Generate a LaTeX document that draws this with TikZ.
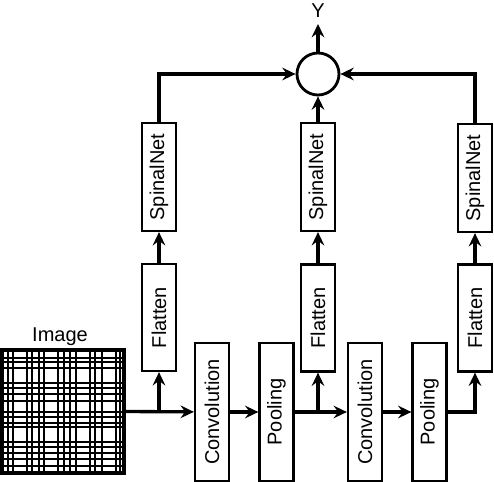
\documentclass[tikz,border=0pt]{standalone}
\usepackage{fontspec}
\setmainfont{Liberation Sans}
\usetikzlibrary{arrows.meta}

\begin{document}
\begin{tikzpicture}[x=0.75pt,y=-0.75pt,
  blk/.style={draw, line width=1.7pt, rotate=90, inner sep=0pt, minimum height=25.5pt, font=\fontsize{15}{18}\selectfont},
  arr/.style={line width=2.5pt, -{Stealth[length=10pt,width=9.5pt,inset=3.5pt]}},
  gridln/.style={line width=1.7pt}]
\useasboundingbox (0,0) rectangle (494,482);
\foreach \gx in {8,13,27,32,39,44,58,64,70,76,90,95,102,116,120}
  \draw[gridln] (\gx,350) -- (\gx,473);
\foreach \gy in {358,362,368,383,388,394,401,412,417,423,427,442,447,453,459,466}
  \draw[gridln] (2,\gy) -- (124,\gy);
\node[draw, line width=3.2pt, minimum width=91.5pt, minimum height=92.25pt] (img) at (63,411.5){};
\node[font=\fontsize{15}{18}\selectfont] (imglab) at (60,337){Image};
\node[blk, minimum width=103.5pt] (conv1) at (212,412){Convolution};
\node[blk, minimum width=103.5pt] (pool1) at (276.5,412){Pooling};
\node[blk, minimum width=103.5pt] (conv2) at (365,412){Convolution};
\node[blk, minimum width=103.5pt] (pool2) at (429.5,412){Pooling};
\node[blk, minimum width=80.25pt] (flat1) at (159,317.5){Flatten};
\node[blk, minimum width=80.25pt] (flat2) at (318,318){Flatten};
\node[blk, minimum width=80.25pt] (flat3) at (475,318){Flatten};
\node[blk, minimum width=81pt] (spin1) at (159,177){SpinalNet};
\node[blk, minimum width=81pt] (spin2) at (318,177){SpinalNet};
\node[blk, minimum width=81pt] (spin3) at (475,178){SpinalNet};
\node[circle, draw, line width=2.1pt, minimum size=31.5pt, inner sep=0pt] (sum) at (318,74){};
\node[font=\fontsize{15}{18}\selectfont] (ylab) at (318,11){Y};
\coordinate (yout) at (318,24);
\coordinate (br1) at (159,412);
\coordinate (br2) at (318,412);
% main line
\draw[arr] (img.east) -- (conv1);
\draw[arr] (br1) -- (flat1);
\draw[arr] (conv1) -- (pool1);
\draw[arr] (pool1) -- (conv2);
\draw[arr] (br2) -- (flat2);
\draw[arr] (conv2) -- (pool2);
\draw[arr] (pool2) -| (flat3);
% branches
\draw[arr] (flat1) -- (spin1);
\draw[arr] (flat2) -- (spin2);
\draw[arr] (flat3) -- (spin3);
\draw[arr] (spin1) |- (sum);
\draw[arr] (spin2) -- (sum);
\draw[arr] (spin3) |- (sum);
\draw[arr] (sum) -- (yout);
\end{tikzpicture}
\end{document}
